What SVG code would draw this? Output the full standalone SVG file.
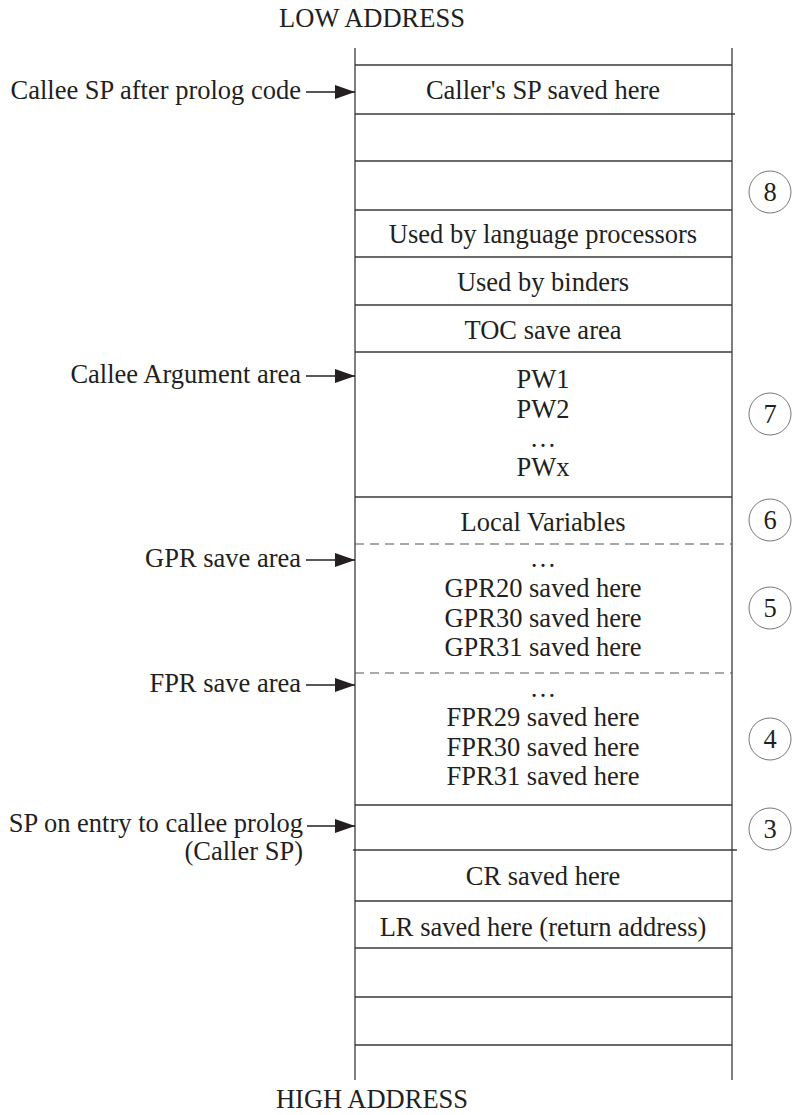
<svg xmlns="http://www.w3.org/2000/svg" width="801" height="1115" viewBox="0 0 801 1115">
<style>
  text { font-size: 26.5px; fill: #231f20; }
  .c { text-anchor: middle; }
  .r { text-anchor: end; }
  .ln { stroke: #3a3a3a; stroke-width: 1.3; fill: none; }
  .dash { stroke: #555; stroke-width: 1.2; stroke-dasharray: 9 6; fill: none; }
  .arr { stroke: #231f20; stroke-width: 1.3; fill: none; marker-end: url(#ah); }
  .circ { stroke: #777; stroke-width: 1; fill: none; }
</style>
<defs>
  <marker id="ah" markerWidth="20" markerHeight="14" refX="20" refY="7" orient="auto" markerUnits="userSpaceOnUse">
    <path d="M0,0 L20,7 L0,14 Z" fill="#231f20"/>
  </marker>
</defs>
<rect width="801" height="1115" fill="#ffffff"/>

<g font-family="'Liberation Serif', Tinos, 'Times New Roman', 'DejaVu Serif', serif">
<g id="titles">
  <text class="c" x="372" y="27">LOW ADDRESS</text>
  <text class="c" x="372" y="1108">HIGH ADDRESS</text>
</g>

<g id="stack">
  <line class="ln" x1="355" y1="48" x2="355" y2="1080"/>
  <line class="ln" x1="732" y1="48" x2="732" y2="1080"/>
  <line class="ln" x1="355" y1="65" x2="732" y2="65"/>
  <line class="ln" x1="355" y1="114" x2="735" y2="114"/>
  <line class="ln" x1="355" y1="161" x2="732" y2="161"/>
  <line class="ln" x1="355" y1="210" x2="732" y2="210"/>
  <line class="ln" x1="355" y1="257" x2="732" y2="257"/>
  <line class="ln" x1="355" y1="305" x2="732" y2="305"/>
  <line class="ln" x1="355" y1="352" x2="732" y2="352"/>
  <line class="ln" x1="355" y1="497" x2="732" y2="497"/>
  <line class="dash" x1="355" y1="544" x2="732" y2="544"/>
  <line class="dash" x1="355" y1="673" x2="732" y2="673"/>
  <line class="ln" x1="355" y1="805" x2="732" y2="805"/>
  <line class="ln" x1="353" y1="850" x2="737" y2="850"/>
  <line class="ln" x1="355" y1="901" x2="732" y2="901"/>
  <line class="ln" x1="355" y1="948" x2="732" y2="948"/>
  <line class="ln" x1="355" y1="997" x2="732" y2="997"/>
  <line class="ln" x1="355" y1="1045" x2="732" y2="1045"/>
</g>

<g id="slot-callers-sp"><text class="c" x="543" y="99">Caller's SP saved here</text></g>
<g id="slot-lang"><text class="c" x="543" y="243">Used by language processors</text></g>
<g id="slot-binders"><text class="c" x="543" y="291">Used by binders</text></g>
<g id="slot-toc"><text class="c" x="543" y="339">TOC save area</text></g>
<g id="slot-args">
  <text class="c" x="543" y="388">PW1</text>
  <text class="c" x="543" y="418">PW2</text>
  <text class="c" x="543" y="447">…</text>
  <text class="c" x="543" y="476">PWx</text>
</g>
<g id="slot-locals"><text class="c" x="543" y="531">Local Variables</text></g>
<g id="slot-gpr">
  <text class="c" x="543" y="567">…</text>
  <text class="c" x="543" y="597">GPR20 saved here</text>
  <text class="c" x="543" y="627">GPR30 saved here</text>
  <text class="c" x="543" y="656">GPR31 saved here</text>
</g>
<g id="slot-fpr">
  <text class="c" x="543" y="697">…</text>
  <text class="c" x="543" y="726">FPR29 saved here</text>
  <text class="c" x="543" y="756">FPR30 saved here</text>
  <text class="c" x="543" y="785">FPR31 saved here</text>
</g>
<g id="slot-cr"><text class="c" x="543" y="885">CR saved here</text></g>
<g id="slot-lr"><text class="c" x="543" y="936">LR saved here (return address)</text></g>

<g id="labels">
  <text class="r" x="301" y="99">Callee SP after prolog code</text>
  <text class="r" x="301" y="383">Callee Argument area</text>
  <text class="r" x="301" y="567">GPR save area</text>
  <text class="r" x="301" y="692">FPR save area</text>
  <text class="r" x="303" y="832">SP on entry to callee prolog</text>
  <text class="r" x="303" y="860">(Caller SP)</text>
</g>

<g id="connectors">
  <line class="arr" x1="306" y1="92" x2="355" y2="92"/>
  <line class="arr" x1="306" y1="376" x2="355" y2="376"/>
  <line class="arr" x1="306" y1="560" x2="355" y2="560"/>
  <line class="arr" x1="306" y1="685" x2="355" y2="685"/>
  <line class="arr" x1="307" y1="826" x2="355" y2="826"/>
</g>

<g id="markers">
  <g id="m8"><circle class="circ" cx="770" cy="192" r="21"/><text class="c" x="770" y="201">8</text></g>
  <g id="m7"><circle class="circ" cx="770" cy="414" r="21"/><text class="c" x="770" y="423">7</text></g>
  <g id="m6"><circle class="circ" cx="770" cy="520" r="21"/><text class="c" x="770" y="529">6</text></g>
  <g id="m5"><circle class="circ" cx="770" cy="608" r="21"/><text class="c" x="770" y="617">5</text></g>
  <g id="m4"><circle class="circ" cx="770" cy="739" r="21"/><text class="c" x="770" y="748">4</text></g>
  <g id="m3"><circle class="circ" cx="770" cy="829" r="21"/><text class="c" x="770" y="838">3</text></g>
</g>
</g>
</svg>
